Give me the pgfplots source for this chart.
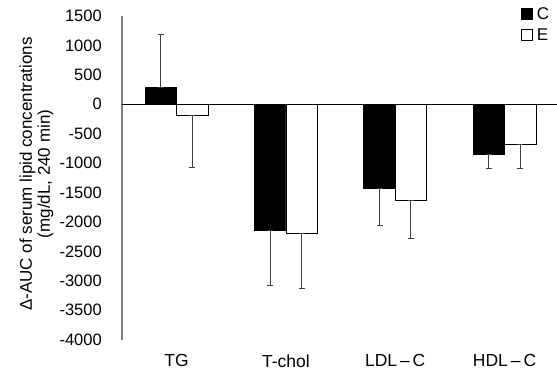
\documentclass[border=0pt]{standalone}
\usepackage{pgfplots}
\usepackage{pgfplotstable}
\usepackage{fontspec}
\setmainfont{Liberation Sans}
\pgfplotsset{compat=1.18}
\pgfplotstableread{
x  c      cp   cm   e      ep  em
0  290    890  0    -185   0   883
1  -2150  0    930  -2190  0   940
2  -1425  0    635  -1632  0   653
3  -847   0    250  -677   0   420
}\datatab
\newcommand\tickfont{\fontsize{16.5pt}{18pt}\selectfont}
\newcommand\xlabfont{\fontsize{17.5pt}{19pt}\selectfont}
\newcommand\legfont{\fontsize{17pt}{19pt}\selectfont}
\newcommand\ylabfont{\fontsize{17pt}{18pt}\selectfont}
\begin{document}
\begin{tikzpicture}
\begin{axis}[
  scale only axis,
  width=435pt, height=324pt,
  ybar=0pt, bar width=31.4pt,
  xmin=-0.5, xmax=3.476,
  ymin=-4000, ymax=1500,
  ytick={-4000,-3500,...,1500},
  xtick={0,1,2,3},
  xticklabels={TG, T-chol, LDL\,–\,C, HDL\,–\,C},
  major tick length=0pt,
  axis y line*=left,
  axis x line*=bottom,
  x axis line style={opacity=0},
  y axis line style={draw=gray, line width=1.6pt},
  /pgf/number format/assume math mode=true,
  /pgf/number format/1000 sep={},
  y tick label style={font=\tickfont, inner sep=0pt, xshift=-20pt},
  x tick label style={font=\xlabfont, inner sep=0pt, yshift=-14.5pt},
  extra y ticks={0},
  extra y tick labels={},
  extra y tick style={grid=major, major grid style={black, line width=0.8pt}},
  ylabel={Δ-AUC of serum lipid concentrations\\(mg/dL, 240 min)},
  ylabel style={font=\ylabfont, align=center, at={(axis description cs:-0.1966,0.512)}, anchor=center, rotate=0},
  legend style={draw=none, fill=none, at={(rel axis cs:0.9166,1.0278)}, anchor=north west,
    font=\legfont, row sep=8.5pt, inner sep=0pt,
    nodes={inner sep=0pt, text height=12pt, text depth=0pt, font=\legfont},
    /tikz/every odd column/.style={column sep=4.5pt}},
  legend cell align=left,
  legend image code/.code={\draw[#1, line width=0.8pt] (0pt,-6pt) rectangle (11pt,5pt);},
  error bars/error bar style={draw=darkgray, line width=1pt},
  error bars/error mark options={rotate=90, mark size=3pt, line width=1pt, draw=darkgray},
]
\addplot[fill=black, draw=black, line width=0.8pt,
  error bars/.cd, y dir=both, y explicit]
  table[x=x, y=c, y error plus=cp, y error minus=cm] {\datatab};
\addplot[fill=white, draw=black, line width=0.8pt,
  error bars/.cd, y dir=both, y explicit]
  table[x=x, y=e, y error plus=ep, y error minus=em] {\datatab};
\legend{C, E}
\end{axis}
\path ([xshift=-122pt,yshift=-34pt]current axis.south west) rectangle ([yshift=16pt]current axis.north east);
\end{tikzpicture}
\end{document}
